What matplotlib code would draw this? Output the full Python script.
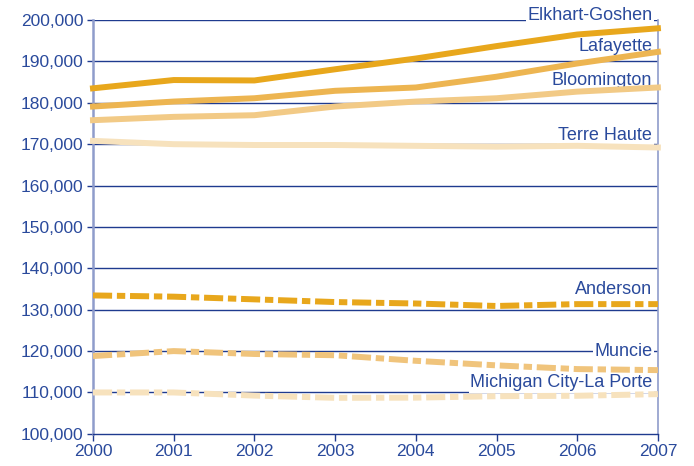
import matplotlib.pyplot as plt
from matplotlib.ticker import FuncFormatter

plt.rcParams['font.family'] = ['Liberation Sans', 'DejaVu Sans']

years = [2000, 2001, 2002, 2003, 2004, 2005, 2006, 2007]

# population estimates
elkhart = [183500, 185500, 185400, 188100, 190700, 193700, 196500, 198000]
lafayette = [179100, 180300, 181100, 182900, 183700, 186300, 189500, 192300]
bloomington = [175800, 176600, 177000, 179100, 180300, 181100, 182700, 183700]
terre_haute = [170800, 170000, 169800, 169800, 169600, 169400, 169600, 169200]
anderson = [133450, 133150, 132500, 131850, 131500, 130900, 131350, 131350]
muncie = [118800, 120000, 119300, 119000, 117650, 116550, 115650, 115400]
michigan_city = [110000, 110000, 109250, 108700, 108750, 109100, 109200, 109600]

names = ['Elkhart-Goshen', 'Lafayette', 'Bloomington', 'Terre Haute',
         'Anderson', 'Muncie', 'Michigan City-La Porte']
series = [elkhart, lafayette, bloomington, terre_haute, anderson, muncie, michigan_city]
colors = ['#e8a71c', '#edb551', '#f2ca86', '#f7e2bd', '#e8a71c', '#f0c47c', '#f7e2bd']
dashed = [False, False, False, False, True, True, True]
label_y = [201200, 193700, 185500, 172200, 134800, 120000, 112300]

navy = '#1f3b8f'
text_blue = '#2a4a9c'
pale = '#8f9ccb'

fig = plt.figure(figsize=(6.94, 4.66), dpi=100)
ax = fig.add_axes([0.134, 0.069, 0.814, 0.888])

ax.set_xlim(2000, 2007)
ax.set_ylim(100000, 200000)
ax.set_yticks(range(100000, 200001, 10000))
ax.set_xticks(years)
ax.yaxis.set_major_formatter(FuncFormatter(lambda v, p: f'{int(v):,}'))

for v in range(110000, 200001, 10000):
    ax.axhline(v, color=navy, lw=1.0, zorder=1)

for s, c, d in zip(series, colors, dashed):
    if d:
        ax.plot(years, s, color=c, lw=4.3, dashes=(3.2, 0.8, 1.4, 0.8),
                solid_capstyle='butt', zorder=3, clip_on=False)
    else:
        ax.plot(years, s, color=c, lw=4.3, zorder=3, clip_on=False,
                solid_joinstyle='round')

# labels sit over the gridlines but under the lines
for name, ly in zip(names, label_y):
    ax.text(2006.93, ly, name, ha='right', va='center', fontsize=13,
            color=text_blue, zorder=2, clip_on=False,
            bbox=dict(facecolor='white', edgecolor='none', pad=1.0))

ax.spines['top'].set_visible(False)
ax.spines['left'].set_color(pale)
ax.spines['left'].set_linewidth(1.8)
ax.spines['right'].set_color(pale)
ax.spines['right'].set_linewidth(1.2)
ax.spines['bottom'].set_color(navy)
ax.spines['bottom'].set_linewidth(1.0)

ax.tick_params(axis='y', length=4, width=1, color=navy, labelcolor=text_blue,
               labelsize=12.5, pad=3)
ax.tick_params(axis='x', length=5, width=1, color=navy, labelcolor=text_blue,
               labelsize=12.5, pad=2)

plt.savefig('out.png', dpi=100)
